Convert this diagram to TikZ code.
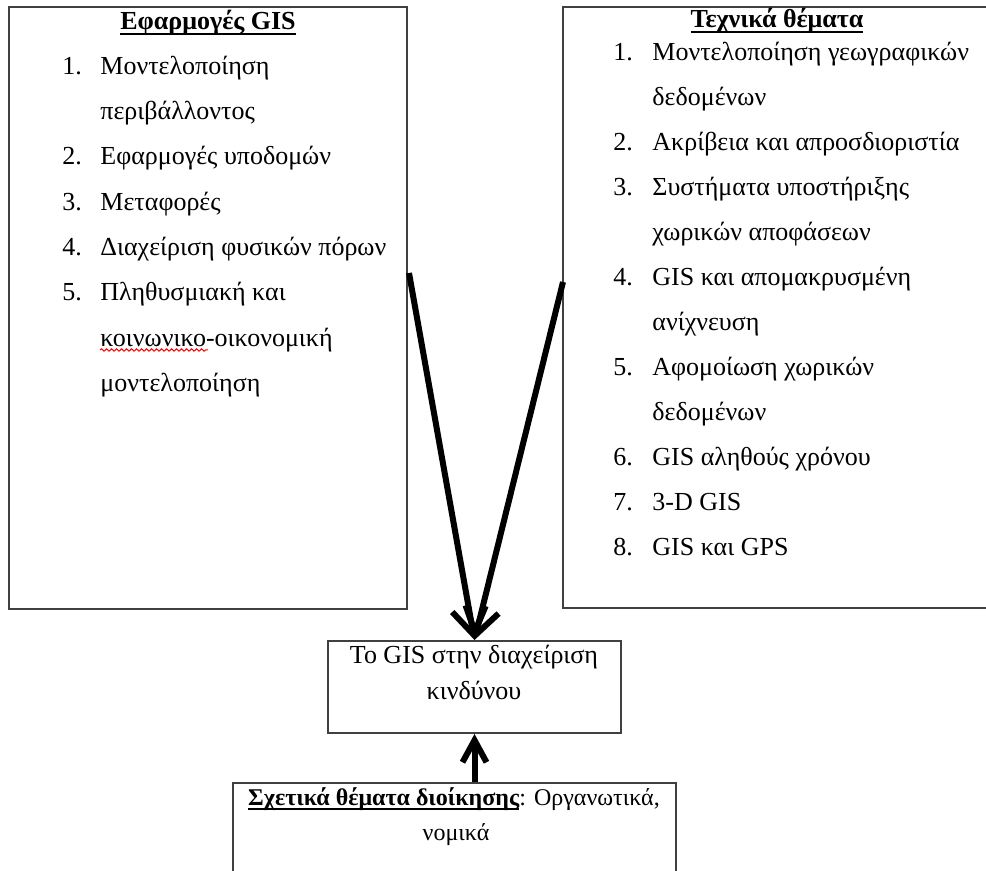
\documentclass[tikz,border=0pt]{standalone}
\usepackage{fontspec}
\setmainfont{Liberation Serif}
\usetikzlibrary{arrows.meta,decorations.pathmorphing}

\newsavebox{\headbox}
\newcommand{\ulhead}[1]{\sbox{\headbox}{\textbf{#1}}\rlap{\rule[-2.4pt]{\wd\headbox}{0.9pt}}\usebox{\headbox}}

\begin{document}
\begin{tikzpicture}[
    x=0.5pt, y=-0.5pt,
    box/.style={draw=black!75, line width=1pt, inner sep=0pt},
    txt/.style={font=\fontsize{13pt}{15pt}\selectfont, inner sep=0pt, anchor=base west},
    ctxt/.style={txt, anchor=base},
    small/.style={ctxt, font=\fontsize{12pt}{14pt}\selectfont},
    flow/.style={line width=3pt, -{Straight Barb[length=13pt,width=17pt]}},
    spell/.style={red, line width=0.5pt, decorate,
      decoration={snake, amplitude=0.6pt, segment length=2.5pt}}
  ]
    \useasboundingbox (0,0) rectangle (986,871);
    \clip (0,0) rectangle (986,871);

    % boxes
    \node[box, minimum width=199pt, minimum height=301pt] (apps) at (208,308) {};
    \node[box, minimum width=216pt, minimum height=300.5pt] (tech) at (779,307.5) {};
    \node[box, minimum width=146.5pt, minimum height=46pt] (risk) at (474.5,687) {};
    \node[box, minimum width=221.5pt, minimum height=61pt] (admin) at (454.5,844) {};

    % left box
    \node[ctxt] (appshead) at (208,30) {\ulhead{Εφαρμογές GIS}};
    \foreach \y/\n in {75/1,165/2,211/3,256/4,301/5} {
      \node[txt] (appsn\n) at (62,\y) {\n.};
    }
    \foreach \y/\line [count=\i] in {75/Μοντελοποίηση, 120/περιβάλλοντος,
        165/Εφαρμογές υποδομών, 211/Μεταφορές, 256/Διαχείριση φυσικών πόρων,
        301/Πληθυσμιακή και, 347/κοινωνικο-οικονομική, 392/μοντελοποίηση} {
      \node[txt] (appsl\i) at (100,\y) {\line};
    }
    \draw[spell] (100,350) -- (208,350);

    % right box
    \node[ctxt] (techhead) at (777,28) {\ulhead{Τεχνικά θέματα}};
    \foreach \y/\n in {61/1,151/2,196/3,286/4,376/5,466/6,511/7,556/8} {
      \node[txt] (techn\n) at (613,\y) {\n.};
    }
    \foreach \y/\line [count=\i] in {61/Μοντελοποίηση γεωγραφικών, 106/δεδομένων,
        151/Ακρίβεια και απροσδιοριστία, 196/Συστήματα υποστήριξης,
        241/χωρικών αποφάσεων, 286/GIS και απομακρυσμένη, 331/ανίχνευση,
        376/Αφομοίωση χωρικών, 421/δεδομένων, 466/GIS αληθούς χρόνου,
        511/3-D GIS, 556/GIS και GPS} {
      \node[txt] (techl\i) at (652,\y) {\line};
    }

    % centre and bottom
    \node[ctxt] (risk1) at (474,663) {Το GIS στην διαχείριση};
    \node[ctxt] (risk2) at (474,699) {κινδύνου};
    \node[small] (admin1) at (454,805) {\ulhead{Σχετικά θέματα διοίκησης}: Οργανωτικά,};
    \node[small] (admin2) at (456,840) {νομικά};

    % arrows
    \coordinate (appsout) at (409,273);
    \coordinate (techout) at (563,282);
    \draw[flow] (appsout) -- (risk.north);
    \draw[flow] (techout) -- (risk.north);
    \draw[flow, -{Straight Barb[length=11pt,width=12pt]}] (admin.north -| risk.south) -- (risk.south);
  \end{tikzpicture}
\end{document}
